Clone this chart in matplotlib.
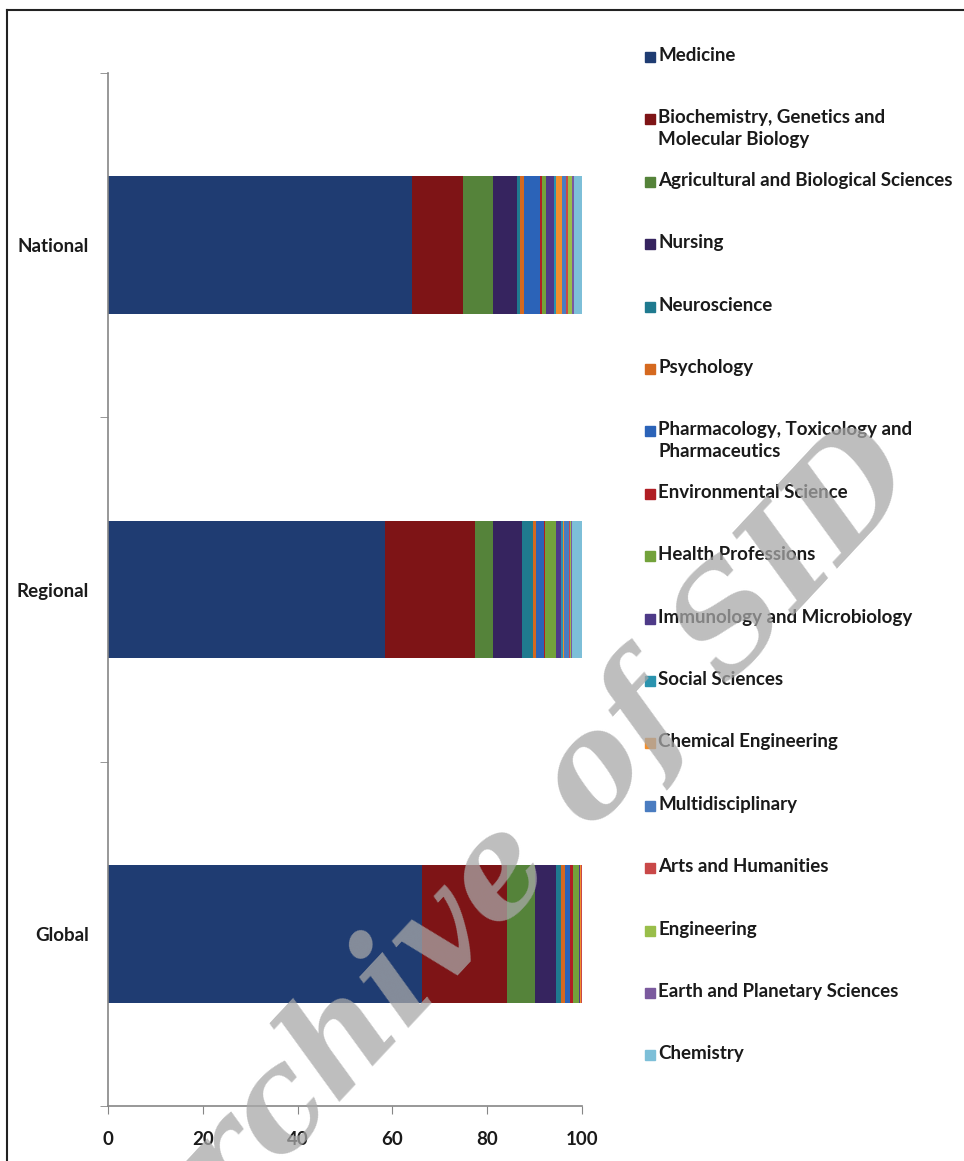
import numpy as np
import matplotlib.pyplot as plt
from matplotlib.patches import Rectangle
from matplotlib.lines import Line2D

groups = ['National', 'Regional', 'Global']
categories = [
    'Medicine',
    'Biochemistry, Genetics and\nMolecular Biology',
    'Agricultural and Biological Sciences',
    'Nursing',
    'Neuroscience',
    'Psychology',
    'Pharmacology, Toxicology and\nPharmaceutics',
    'Environmental Science',
    'Health Professions',
    'Immunology and Microbiology',
    'Social Sciences',
    'Chemical Engineering',
    'Multidisciplinary',
    'Arts and Humanities',
    'Engineering',
    'Earth and Planetary Sciences',
    'Chemistry',
]
# percent share of each subject area, per group (National, Regional, Global)
national = [64.1, 10.8, 6.3, 5.1, 0.6, 0.9, 3.3, 0.5, 0.9, 1.5, 0.6, 1.2, 0.8, 0.4, 0.8, 0.5, 1.7]
regional = [58.4, 19.0, 3.8, 6.1, 2.3, 0.6, 1.7, 0.3, 2.4, 1.0, 0.3, 0.2, 1.2, 0.2, 0.2, 0.2, 2.1]
global_ = [66.2, 17.9, 5.9, 4.6, 0.9, 0.9, 1.0, 0.8, 1.2, 0.1, 0.1, 0.1, 0.1, 0.1, 0.1, 0.0, 0.0]
colors = ['#1F3C72', '#7E1416', '#55833A', '#36245F', '#1F7A8F', '#D5691F',
          '#2B63B8', '#B01E24', '#73A23B', '#4E3A88', '#2A93AE', '#F28E2B',
          '#4A7CC0', '#C94848', '#99BE4A', '#7B5A9E', '#7DBFD8']

font = ['Lato', 'DejaVu Sans']
W, H = 964, 1161
fig = plt.figure(figsize=(W / 100, H / 100), dpi=100)
ax = fig.add_axes([108 / W, 1 - 1106 / H, 474 / W, (1106 - 73) / H])

data = np.array([national, regional, global_])
ypos = np.arange(len(groups))
left = np.zeros(len(groups))
for j in range(len(categories)):
    ax.barh(ypos, data[:, j], left=left, height=0.4, color=colors[j], linewidth=0)
    left += data[:, j]

ax.set_xlim(0, 100)
ax.set_ylim(len(groups) - 0.5, -0.5)
ax.set_xticks(np.arange(0, 101, 20))
ax.set_yticks(ypos)
ax.set_yticklabels(groups)
ax.set_yticks(np.arange(-0.5, len(groups), 1), minor=True)
ax.tick_params(axis='y', which='major', length=0, pad=14)
ax.tick_params(axis='y', which='minor', length=6, color='#868686')
ax.tick_params(axis='x', length=6, color='#868686', pad=12)
for lab in ax.get_xticklabels() + ax.get_yticklabels():
    lab.set_family(font)
    lab.set_fontsize(13.5)
    lab.set_fontweight('bold')
    lab.set_color('#1a1a1a')
for s in ['top', 'right']:
    ax.spines[s].set_visible(False)
for s in ['left', 'bottom']:
    ax.spines[s].set_color('#868686')
    ax.spines[s].set_linewidth(1.2)

# legend, one entry per subject area, first line aligned with its square
y0, step = 57, 62.4
for i, (name, c) in enumerate(zip(categories, colors)):
    yc = y0 + i * step
    fig.patches.append(Rectangle((645 / W, 1 - (yc + 5) / H), 10 / W, 10 / H,
                                 transform=fig.transFigure, color=c))
    fig.text(658 / W, 1 - (yc - 10) / H, name, ha='left', va='top',
             family=font, fontsize=13.5, fontweight='bold', color='#1a1a1a',
             linespacing=1.35)

# frame of the cropped figure
fig.add_artist(Line2D([7 / W, 7 / W], [0, 1 - 10 / H], color='#222222', lw=1.5))
fig.add_artist(Line2D([7 / W, 1], [1 - 10 / H, 1 - 10 / H], color='#222222', lw=1.5))

# watermark
fig.text(515 / W, 1 - 870 / H, 'Archive of SID', rotation=47, ha='center', va='center',
         rotation_mode='anchor', family='DejaVu Serif', style='italic', fontweight='bold',
         fontsize=100, color='#a8a8a8', alpha=0.75, zorder=10)

fig.savefig('out.png', dpi=100)
